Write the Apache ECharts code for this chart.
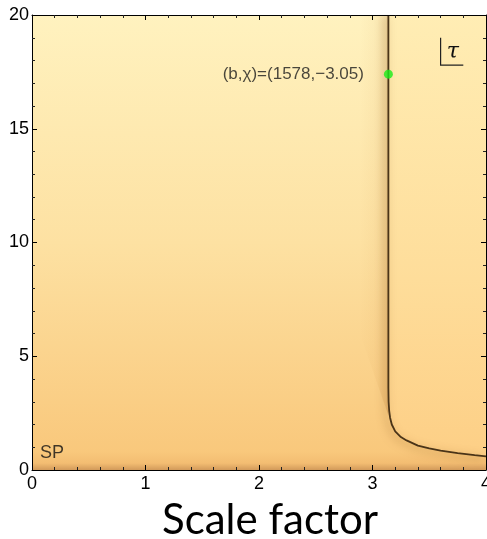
<!DOCTYPE html>
<html><head><meta charset="utf-8">
<script src="https://cdn.jsdelivr.net/npm/echarts@6/dist/echarts.min.js"></script>
<style>html,body{margin:0;padding:0;background:#fff}#c{width:487px;height:539px}</style>
</head><body><div id="c"></div>
<script>
// Data
var xTicks = [0, 1, 2, 3, 4];
var yTicks = [0, 5, 10, 15, 20];
var curveX = [3.14, 3.14, 3.142, 3.147, 3.155, 3.17, 3.2, 3.25, 3.3, 3.4, 3.5, 3.6, 3.75, 3.9, 4.0];
var curveY = [20, 3.6, 3.0, 2.6, 2.3, 2.0, 1.7, 1.45, 1.3, 1.07, 0.95, 0.85, 0.74, 0.65, 0.6];
var pointXY = [3.14, 17.4];
var pointLabel = '(b,\u03C7)=(1578,\u22123.05)';
var tauAnchor = [3.6, 19.0, 3.8, 17.8]; // bracket x0, yTop, x1, yBottom
var tauText = '\u03C4';
var spAnchor = [0.07, 0.75];
var spText = 'SP';

var chart = echarts.init(document.getElementById('c'));
var G = echarts.graphic;
var curve = curveX.map(function (x, i) { return [x, curveY[i]]; });

var axisCommon = {
  min: 0, z: 10,
  axisLine: { show: true, onZero: false, lineStyle: { color: '#000', width: 1 } },
  axisTick: { show: true, inside: true, length: 5, lineStyle: { color: '#000' } },
  minorTick: { show: true, splitNumber: 5, length: 3, lineStyle: { color: '#222' } },
  splitLine: { show: false },
  axisLabel: { color: '#000', fontFamily: 'Liberation Sans', fontSize: 18 }
};

chart.setOption({
  animation: false,
  grid: {
    left: 32, right: 1, top: 15, bottom: 69, show: true, borderWidth: 0, z: 0,
    containLabel: false, outerBoundsMode: 'none',
    backgroundColor: new G.LinearGradient(0, 0, 0, 1, [
      { offset: 0, color: '#fff2bf' },
      { offset: 0.5, color: '#fde1a2' },
      { offset: 0.96, color: '#f9c87c' },
      { offset: 0.985, color: '#f3bd72' },
      { offset: 1, color: '#d29a5a' }
    ])
  },
  xAxis: [
    Object.assign({}, axisCommon, { type: 'value', max: 4, interval: 1, position: 'bottom',
      axisLabel: Object.assign({}, axisCommon.axisLabel, { margin: 5 }),
      name: 'Scale factor', nameLocation: 'middle', nameGap: 29,
      nameTextStyle: { fontFamily: 'Lato', fontSize: 42, color: '#000', padding: [0, 0, 0, 22] } }),
    Object.assign({}, axisCommon, { type: 'value', max: 4, interval: 1, position: 'top',
      axisLabel: { show: false } })
  ],
  yAxis: [
    Object.assign({}, axisCommon, { type: 'value', max: 20, interval: 5, position: 'left',
      axisLabel: Object.assign({}, axisCommon.axisLabel, { margin: 3 }) }),
    Object.assign({}, axisCommon, { type: 'value', max: 20, interval: 5, position: 'right',
      axisLabel: { show: false } })
  ],
  series: [
    { // lighter region right of the curve
      type: 'custom', xAxisIndex: 0, yAxisIndex: 0, z: 1, silent: true, clip: true,
      data: [0],
      renderItem: function (params, api) {
        var pts = curve.map(function (p) { return api.coord(p); });
        pts.push(api.coord([4, 20]));
        return {
          type: 'polygon', shape: { points: pts },
          style: { fill: new G.LinearGradient(0, 0, 0, 1, [
            { offset: 0, color: '#ffedb4' },
            { offset: 0.6, color: '#fedd9a' },
            { offset: 1, color: '#fdcf86' }
          ]) }
        };
      }
    },
    { // shadow band left of the curve
      type: 'custom', xAxisIndex: 0, yAxisIndex: 0, z: 2, silent: true,
      data: [0],
      renderItem: function (params, api) {
        var pts = [api.coord([curveX[0] - 0.25, 20]), api.coord([curveX[0], 20]),
                   api.coord([curveX[0], 2.4]), api.coord([curveX[0] - 0.25, 6])];
        return {
          type: 'polygon', shape: { points: pts },
          style: { fill: new G.LinearGradient(0, 0, 1, 0, [
            { offset: 0, color: 'rgba(200,130,50,0)' },
            { offset: 0.6, color: 'rgba(200,130,50,0.06)' },
            { offset: 0.9, color: 'rgba(180,110,40,0.16)' },
            { offset: 1, color: 'rgba(150,90,30,0.3)' }
          ]) }
        };
      }
    },
    {
      type: 'line', data: curve, showSymbol: false, smooth: false, z: 3,
      lineStyle: { color: '#4a3418', width: 1.8, shadowColor: 'rgba(130,75,20,0.55)',
        shadowBlur: 8, shadowOffsetX: -3, shadowOffsetY: 2 }
    },
    {
      type: 'scatter', data: [pointXY], symbolSize: 9, z: 5,
      itemStyle: { color: '#19ee19' },
      label: { show: true, position: 'left', distance: 20, formatter: pointLabel,
        color: '#1a1a1a', fontFamily: 'Liberation Sans', fontSize: 17 }
    },
    { // tau annotation
      type: 'custom', xAxisIndex: 0, yAxisIndex: 0, z: 5, silent: true,
      data: [0],
      renderItem: function (params, api) {
        var p0 = api.coord([tauAnchor[0], tauAnchor[1]]);
        var p1 = api.coord([tauAnchor[2], tauAnchor[3]]);
        return { type: 'group', children: [
          { type: 'polyline', shape: { points: [[p0[0], p0[1]], [p0[0], p1[1]], [p1[0], p1[1]]] },
            style: { stroke: '#222', lineWidth: 1.2, fill: null } },
          { type: 'text', style: { text: tauText, x: (p0[0] + p1[0]) / 2 + 1, y: (p0[1] + p1[1]) / 2 + 1,
            align: 'center', verticalAlign: 'middle', font: 'italic 22px "DejaVu Serif"', fill: '#111' } }
        ] };
      }
    },
    { // SP label
      type: 'scatter', data: [spAnchor], symbolSize: 0, z: 5,
      label: { show: true, position: 'right', distance: 0, formatter: spText,
        color: '#111', fontFamily: 'Liberation Sans', fontSize: 18 }
    }
  ]
});
</script></body></html>
